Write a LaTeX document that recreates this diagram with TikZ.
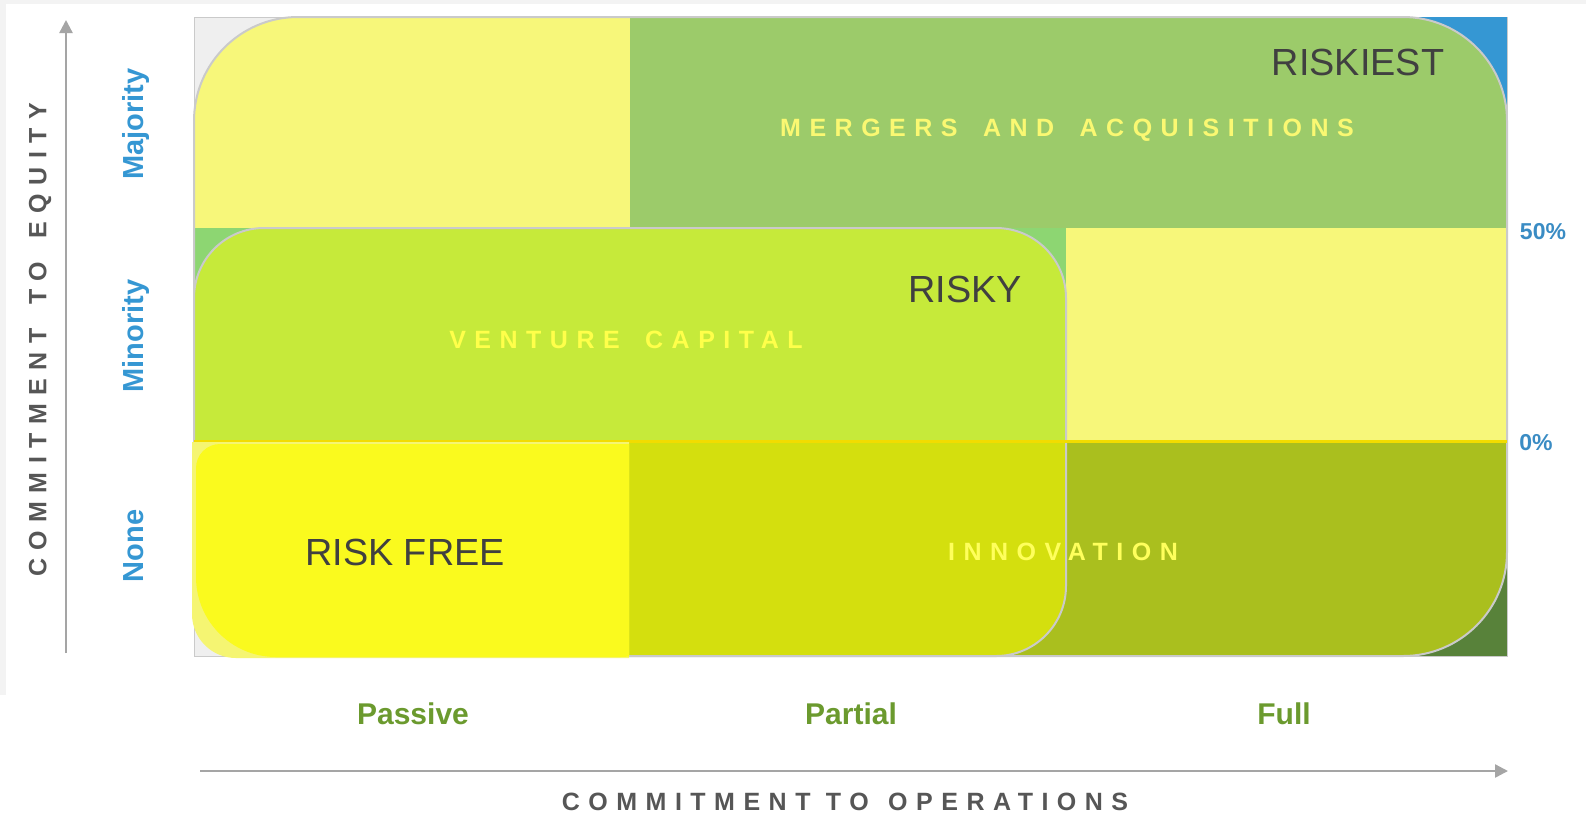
\documentclass[tikz,border=0pt]{standalone}
\usepackage{fontspec}
\setmainfont{Liberation Sans}
\newfontfamily\spacedfont[LetterSpace=34]{Liberation Sans}
\usetikzlibrary{arrows.meta}

\definecolor{margingray}{HTML}{F3F3F3}
\definecolor{framegray}{HTML}{EFEFEF}
\definecolor{edgegray}{HTML}{CACACA}
\definecolor{axisgray}{HTML}{A5A5A5}
\definecolor{titlegray}{HTML}{565656}
\definecolor{riskgray}{HTML}{404040}
\definecolor{cornerblue}{HTML}{3597D3}
\definecolor{cornergreen}{HTML}{58823A}
\definecolor{paleyellow}{HTML}{F7F77A}
\definecolor{magreen}{HTML}{9CCB6A}
\definecolor{vcgreen}{HTML}{8DD672}
\definecolor{vclime}{HTML}{C6EA3A}
\definecolor{innoyellow}{HTML}{D4DF0E}
\definecolor{innoolive}{HTML}{AABF1E}
\definecolor{riskyellow}{HTML}{FAFA1E}
\definecolor{riskpale}{HTML}{F5F572}
\definecolor{dividerline}{HTML}{F2DC00}
\definecolor{matext}{HTML}{FAF872}
\definecolor{vctext}{HTML}{FFFF4A}
\definecolor{innotext}{HTML}{FFFF5C}
\definecolor{levelblue}{HTML}{3597D3}
\definecolor{shareblue}{HTML}{3A8CC4}
\definecolor{stagegreen}{HTML}{6B9A2E}

\begin{document}
\begin{tikzpicture}[
  x=0.5pt,
  y=-0.5pt,
  risk/.style={
    text=riskgray,
    inner sep=0pt,
    font=\fontsize{18.9pt}{22pt}\selectfont
  },
  zone/.style={
    inner sep=0pt,
    font=\spacedfont\bfseries\fontsize{12.5pt}{15pt}\selectfont
  },
  level/.style={
    rotate=90,
    anchor=base,
    inner sep=0pt,
    text=levelblue,
    font=\bfseries\fontsize{14.5pt}{17pt}\selectfont
  },
  share/.style={
    inner sep=0pt,
    text=shareblue,
    font=\bfseries\fontsize{11.5pt}{14pt}\selectfont
  },
  stage/.style={
    inner sep=0pt,
    text=stagegreen,
    font=\bfseries\fontsize{15pt}{18pt}\selectfont
  },
  axislabel/.style={
    inner sep=0pt,
    text=titlegray,
    font=\spacedfont\bfseries\fontsize{12.5pt}{15pt}\selectfont
  },
  axis/.style={-{Triangle[length=6.5pt,width=6.5pt]}, line width=1.2pt, draw=axisgray}
]
\useasboundingbox (0,0) rectangle (1586,821);
\fill[white] (0,0) rectangle (1586,821);
\fill[margingray] (0,0) rectangle (1586,4);
\fill[margingray] (0,0) rectangle (6,695);

\draw[fill=framegray, draw=edgegray] (194,17) rectangle (1507,656);
\fill[cornerblue] (1400,17) rectangle (1507,125);
\fill[cornergreen] (1400,548) rectangle (1507,656);

\begin{scope}
  \clip[rounded corners=52pt] (194,17) rectangle (1507,656);
  \fill[paleyellow] (194,17) rectangle (630,228);
  \fill[magreen] (630,17) rectangle (1507,228);
  \fill[vcgreen] (194,228) rectangle (1066,441);
  \fill[paleyellow] (1066,228) rectangle (1507,441);
  \fill[innoolive] (194,441) rectangle (1507,656);
\end{scope}
\draw[edgegray, line width=1pt, rounded corners=52pt] (194,17) rectangle (1507,656);

\fill[vclime, rounded corners=35pt] (194,228) rectangle (1066,656);
\begin{scope}
  \clip[rounded corners=35pt] (194,228) rectangle (1066,656);
  \fill[innoyellow] (194,441) rectangle (1066,656);
\end{scope}
\draw[edgegray, line width=1pt, rounded corners=35pt] (194,228) rectangle (1066,656);
\draw[dividerline, line width=1.5pt] (194,441) -- (1507,441);

\begin{scope}
  \clip (180,442) rectangle (629,670);
  \fill[riskpale, rounded corners=22pt] (192,400) rectangle (700,658);
\end{scope}
\begin{scope}
  \clip (180,442) rectangle (629,550);
  \fill[riskyellow, rounded corners=12pt] (196,444) rectangle (700,800);
\end{scope}
\begin{scope}
  \clip (180,550) rectangle (629,670);
  \fill[riskyellow, rounded corners=40pt] (196,400) rectangle (700,657);
\end{scope}

\node[risk] (riskiest) at (1358,62) {RISKIEST};
\node[risk] (risky) at (965,289) {RISKY};
\node[risk] (riskfree) at (405,552) {RISK FREE};

\node[zone, text=matext] (mergers) at (1067,130) {MERGERS\hspace{5pt} AND\hspace{5pt} ACQUISITIONS};
\node[zone, text=vctext] (venture) at (626,340) {VENTURE\hspace{5pt} CAPITAL};
\node[zone, text=innotext] (innovation) at (1063,552) {INNOVATION};

\node[level] (majority) at (143,124) {Majority};
\node[level] (minority) at (143,336) {Minority};
\node[level] (none) at (143,546) {None};

\node[share] (fifty) at (1543,232) {50\%};
\node[share] (zero) at (1536,443) {0\%};

\node[stage] (passive) at (413,714) {Passive};
\node[stage] (partial) at (851,714) {Partial};
\node[stage] (full) at (1284,714) {Full};

\coordinate (yfoot) at (66,653);
\coordinate (ytip) at (66,20);
\coordinate (xfoot) at (200,771);
\coordinate (xtip) at (1508,771);
\draw[axis] (yfoot) -- (ytip);
\draw[axis] (xfoot) -- (xtip);

\node[axislabel, rotate=90] (equity) at (40,340) {COMMITMENT\hspace{4pt} TO\hspace{4pt} EQUITY};
\node[axislabel] (operations) at (845,802) {COMMITMENT TO\hspace{2pt} OPERATIONS};
\end{tikzpicture}
\end{document}
